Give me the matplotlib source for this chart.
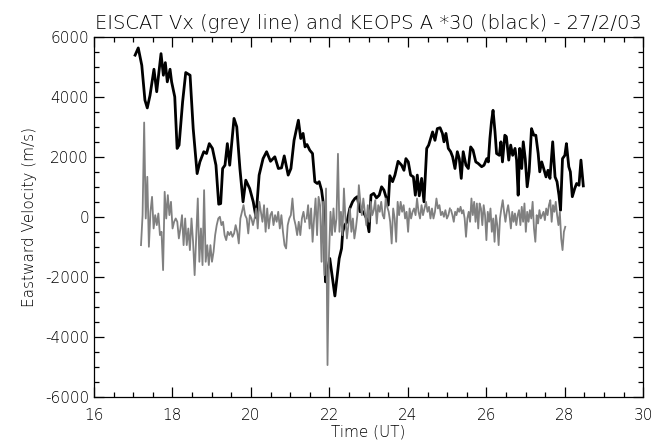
import numpy as np
import matplotlib
matplotlib.use("Agg")
import matplotlib.pyplot as plt
from matplotlib.ticker import MultipleLocator

plt.rcParams["font.family"] = ["DejaVu Sans"]
plt.rcParams["font.weight"] = "light"
plt.rcParams["axes.titleweight"] = "light"
plt.rcParams["axes.labelweight"] = "light"
plt.rcParams["axes.unicode_minus"] = False

# KEOPS A *30 (black line), time in UT hours, velocity in m/s
keops_t = [17.05, 17.13, 17.22, 17.30, 17.36, 17.43, 17.53, 17.60, 17.71, 17.77,
           17.82, 17.87, 17.94, 17.98, 18.06, 18.12, 18.17, 18.26, 18.34, 18.45,
           18.53, 18.63, 18.70, 18.80, 18.87, 18.94, 19.02, 19.11, 19.18, 19.23,
           19.28, 19.34, 19.40, 19.46, 19.57, 19.64, 19.72, 19.80, 19.87, 19.97,
           20.06, 20.13, 20.21, 20.31, 20.40, 20.50, 20.61, 20.70, 20.78, 20.85,
           20.95, 21.02, 21.10, 21.21, 21.27, 21.33, 21.38, 21.43, 21.50, 21.57,
           21.63, 21.69, 21.74, 21.80, 21.84, 21.90, 22.01, 22.14, 22.25, 22.31,
           22.34, 22.39, 22.45, 22.52, 22.59, 22.65, 22.71, 22.78, 22.86, 22.95,
           23.01, 23.06, 23.13, 23.20, 23.27, 23.33, 23.39, 23.44, 23.50, 23.54,
           23.61, 23.67, 23.75, 23.84, 23.90, 23.95, 24.01, 24.07, 24.14, 24.19,
           24.24, 24.29, 24.35, 24.41, 24.48, 24.53, 24.58, 24.63, 24.69, 24.75,
           24.82, 24.88, 24.92, 24.97, 25.03, 25.09, 25.14, 25.20, 25.26, 25.31,
           25.36, 25.41, 25.48, 25.54, 25.60, 25.66, 25.73, 25.79, 25.88, 25.94,
           26.01, 26.05, 26.09, 26.13, 26.17, 26.22, 26.26, 26.33, 26.37, 26.41,
           26.47, 26.51, 26.57, 26.62, 26.67, 26.73, 26.77, 26.81, 26.85, 26.90,
           26.94, 26.99, 27.04, 27.09, 27.15, 27.21, 27.26, 27.32, 27.36, 27.41,
           27.46, 27.52, 27.57, 27.62, 27.69, 27.75, 27.80, 27.85, 27.89, 27.94,
           28.00, 28.04, 28.10, 28.14, 28.19, 28.25, 28.30, 28.36, 28.41, 28.47]
keops_v = [5390, 5630, 5050, 3890, 3630, 4050, 4920, 4170, 5440, 4720,
           5140, 4500, 4920, 4500, 4000, 2280, 2390, 3830, 4810, 4720,
           2940, 1440, 1830, 2170, 2110, 2440, 2280, 1720, 420, 440,
           1610, 1720, 2440, 1720, 3280, 3000, 1610, 500, 1220, 940,
           500, -20, 1390, 1940, 2170, 1850, 2000, 1610, 1630, 2030,
           1390, 1610, 2550, 3220, 2610, 2780, 2330, 2410, 2220, 2110,
           1170, 1110, 1170, 890, 500, -2170, -1390, -2640, -1390, -1060,
           -500, -280, -170, 280, 500, 610, 670, 170, 170, -60,
           -500, 720, 780, 630, 720, 1000, 890, 670, 390, 1370,
           1170, 1390, 1850, 1720, 1550, 1940, 1830, 1390, 1330, 720,
           1390, 700, 1280, 500, 2280, 2390, 2610, 2830, 2550, 2940,
           2970, 2780, 2500, 2780, 2280, 2170, 2000, 1610, 2170, 1940,
           1280, 2170, 1720, 1610, 2330, 2220, 1830, 1780, 1670, 1720,
           1940, 1830, 2610, 3170, 3550, 2830, 2110, 2050, 2500, 1830,
           2720, 2670, 1890, 2390, 2050, 2280, 1890, 720, 2280, 1610,
           2500, 1940, 1000, 1500, 2940, 2720, 2720, 2110, 1500, 1830,
           1610, 1330, 1550, 1280, 2500, 1330, 1170, 720, 220, 1940,
           2050, 2440, 1670, 1500, 670, 940, 1110, 1050, 1890, 1030]

# EISCAT Vx (grey line), three stretches of regularly sampled values
eiscat_a_span = (17.20, 21.38)
eiscat_a = [-945, 55, 3143, -56, 1333, -1000, 166, 666, -390, 55,
            -278, 110, -611, -500, -1778, 833, -56, 722, 55, 500,
            -390, -167, -56, -167, -722, -390, 55, -945, -56, -945,
            -390, -1111, -56, -833, -1945, -667, 611, -1500, -390, -1611,
            888, -1500, -945, -1611, -945, -1500, -1167, -611, -278, -56,
            0, -278, -167, -611, -778, -500, -611, -500, -667, -556,
            -278, -500, -889, -56, 166, 388, 55, -56, -556, 55,
            -56, -278, -56, 277, -390, 500, 166, -167, 388, -500,
            277, -390, 55, 166, -278, 55, -167, 166, -390, 55,
            -500, -945, -1056, -278, -56, 55, 611, -56, -278, -611,
            -167, -611, -56, 166, -167]
eiscat_b_span = (21.42, 25.07)
eiscat_b = [-57, 388, -390, 277, -834, -57, 610, -612, 666, 388,
            -1500, 499, -1945, 943, -4945, -1279, 166, -612, 277, -501,
            -57, 2100, -501, 166, -612, 943, -57, -723, -279, 277,
            -501, -57, -723, -390, 54, 1054, 499, 54, 610, 166,
            -279, 388, -168, 499, 54, 221, 555, -223, 388, 166,
            499, 54, -57, 610, 332, 166, -168, -890, 277, -57,
            -834, 499, 54, 499, 166, 388, -57, 166, -501, 277,
            -57, 166, 277, 54, 610, 166, -57, 388, 54, 277,
            499, 166, 332, -57, 277, -57, 166, 610, 277, 388,
            54, 166, -1, 221, -57, 54, 277]
eiscat_c_span = (25.10, 28.01)
eiscat_c = [222, 55, -167, 166, 55, 277, 166, 333, 111, 222,
            -56, -667, -56, 166, -167, 610, 55, 499, -167, 444,
            -390, 444, 277, -278, 388, 55, -778, 166, -167, 277,
            -501, -56, -834, 55, -278, -945, -56, 277, 555, 166,
            -167, 166, 388, 55, -390, 166, -167, 111, -278, 55,
            222, -278, 333, -167, 444, -501, 166, -167, 222, -56,
            499, -390, -834, 55, -223, 222, -56, 55, 166, -112,
            277, 55, 388, 555, -167, 388, 166, 499, 55, -278,
            166, -723, -1111, -501, -334]

x_ticks = [16, 18, 20, 22, 24, 26, 28, 30]
y_ticks = [-6000, -4000, -2000, 0, 2000, 4000, 6000]

fig = plt.figure(figsize=(6.66, 4.44), dpi=100)
ax = fig.add_axes([0.141, 0.1065, 0.825, 0.8105])

ax.plot(keops_t, keops_v, color="black", lw=2.0, zorder=2)
for span, vals in [(eiscat_a_span, eiscat_a), (eiscat_b_span, eiscat_b), (eiscat_c_span, eiscat_c)]:
    t = np.linspace(span[0], span[1], len(vals))
    ax.plot(t, vals, color="#808080", lw=1.3, zorder=3)

ax.set_xlim(16, 30)
ax.set_ylim(-6000, 6000)
ax.set_xticks(x_ticks)
ax.set_yticks(y_ticks)
ax.xaxis.set_minor_locator(MultipleLocator(0.5))
ax.yaxis.set_minor_locator(MultipleLocator(500))
ax.tick_params(which="both", direction="in", top=True, right=True, labelsize=11, width=0.9)
ax.tick_params(which="major", length=7)
ax.tick_params(which="minor", length=3.5)
ax.tick_params(axis="x", pad=8)
for s in ax.spines.values():
    s.set_linewidth(0.9)

ax.set_title("EISCAT Vx (grey line) and KEOPS A *30 (black) - 27/2/03",
             fontsize=14, fontweight="light", pad=6)
ax.set_xlabel("Time (UT)", fontsize=11, fontweight="light", labelpad=1)
ax.set_ylabel("Eastward Velocity (m/s)", fontsize=11, fontweight="light", labelpad=6)

fig.savefig("out.png", dpi=100)
